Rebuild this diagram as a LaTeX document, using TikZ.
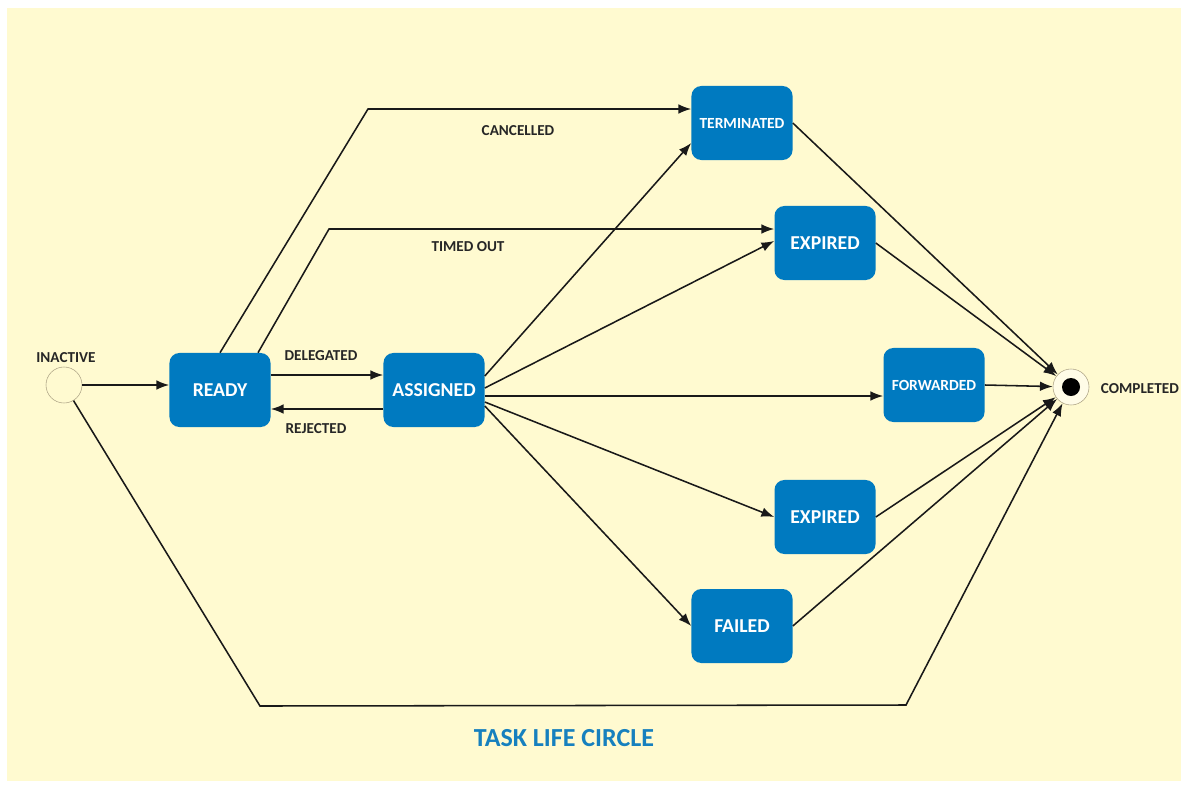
\documentclass[tikz,border=0pt]{standalone}
\usepackage{fontspec}
\setmainfont{Carlito}
\usetikzlibrary{arrows.meta}
\definecolor{paper}{RGB}{255,250,208}
\definecolor{stateblue}{RGB}{0,122,192}
\definecolor{titleblue}{RGB}{22,128,190}
\definecolor{ringgray}{RGB}{175,165,135}

\begin{document}
\begin{tikzpicture}[x=0.025cm,y=-0.025cm,
state/.style={fill=stateblue,rounded corners=7pt,minimum width=2.525cm,minimum height=1.85cm,text=white,font=\bfseries\fontsize{14}{16}\selectfont},
smallstate/.style={font=\bfseries\fontsize{11}{13}\selectfont},
lbl/.style={font=\bfseries\fontsize{10.8}{12}\selectfont,text=black!85},
edge/.style={line width=1.1pt,draw=black!90,-{Latex[length=3.2mm,width=2.4mm]}},
pseudo/.style={circle,draw=ringgray,minimum size=0.9cm,inner sep=0pt}]
\useasboundingbox (0,0) rectangle (1188,789);
\fill[white] (0,0) rectangle (1188,789);
\fill[paper] (7,8) rectangle (1181,781);
\node[pseudo,fill=paper] (inactive) at (64,385) {};
\node[lbl] (inactivelbl) at (66,358) {INACTIVE};
\node[state] (ready) at (220,390) {READY};
\node[state] (assigned) at (434,390) {ASSIGNED};
\node[state,smallstate] (terminated) at (742,123) {TERMINATED};
\node[state] (expiredtop) at (825,243) {EXPIRED};
\node[state,smallstate] (forwarded) at (934,385) {FORWARDED};
\node[state] (expiredbot) at (825,517) {EXPIRED};
\node[state] (failed) at (742,626) {FAILED};
\node[pseudo,fill=paper!50!white] (completed) at (1071,387) {};
\node[circle,fill=black,minimum size=0.45cm,inner sep=0pt] (dot) at (completed) {};
\node[lbl,anchor=west] (completedlbl) at (1096,389) {COMPLETED};
\coordinate (cancelbend) at (368,109);
\coordinate (timebend) at (329,229);
\coordinate (lowleft) at (260,706);
\coordinate (lowright) at (906,705);
\draw[edge] (inactive) -- (inactive -| ready.west);
\draw[edge] ([yshift=0.375cm]ready.east) -- ([yshift=0.375cm]ready.east -| assigned.west);
\draw[edge] ([yshift=-0.475cm]assigned.west) -- ([yshift=-0.475cm]assigned.west -| ready.east);
\node[lbl] (delegated) at (321,356) {DELEGATED};
\node[lbl] (rejected) at (316,429) {REJECTED};
\draw[edge] (ready.north) -- (cancelbend) -- (cancelbend -| terminated.west);
\node[lbl] (cancelled) at (518,131) {CANCELLED};
\draw[edge] ([xshift=0.95cm]ready.north) -- (timebend) -- (timebend -| expiredtop.west);
\node[lbl] (timedout) at (468,247) {TIMED OUT};
\draw[edge] ([yshift=0.35cm]assigned.east) -- ([yshift=-0.5cm]terminated.west);
\draw[edge] ([yshift=0.05cm]assigned.east) -- ([yshift=0.05cm]expiredtop.west);
\draw[edge] ([yshift=-0.15cm]assigned.east) -- ([yshift=-0.15cm]assigned.east -| forwarded.west);
\draw[edge] ([yshift=-0.3cm]assigned.east) -- (expiredbot.west);
\draw[edge] ([yshift=-0.4cm]assigned.east) -- (failed.west);
\draw[edge] (terminated.east) -- (completed);
\draw[edge] (expiredtop.east) -- (completed);
\draw[edge] (forwarded.east) -- (completed);
\draw[edge] (expiredbot.east) -- (completed);
\draw[edge] (failed.east) -- (completed);
\draw[edge] (inactive) -- (lowleft) -- (lowright) -- (completed);
\node[font=\bfseries\fontsize{18.5}{22}\selectfont,text=titleblue] (title) at (564,738) {TASK LIFE CIRCLE};
\end{tikzpicture}
\end{document}
